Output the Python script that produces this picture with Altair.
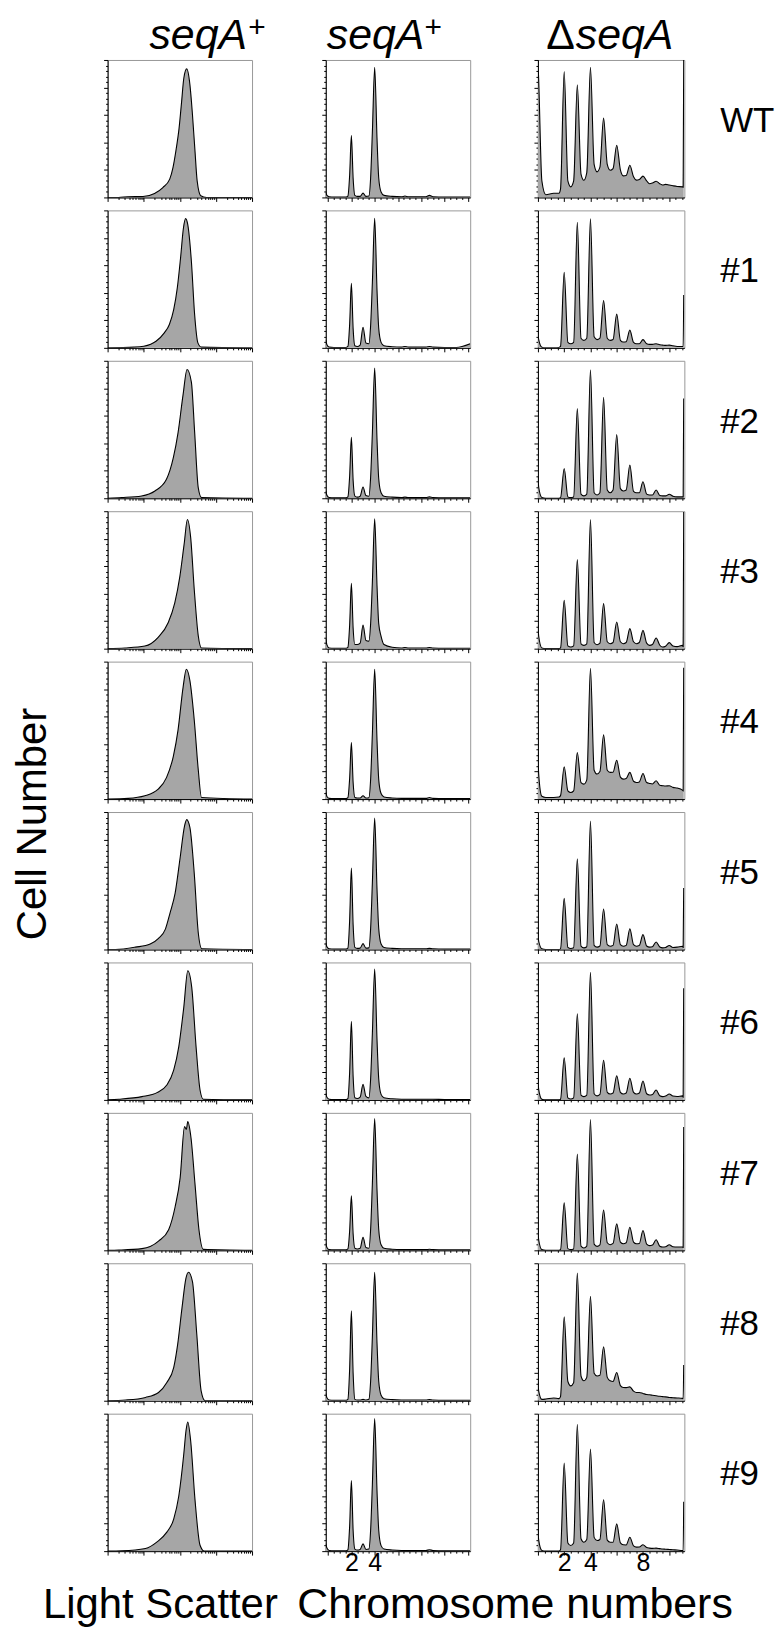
import altair as alt
import pandas as pd

FONT = "Liberation Sans"
FILL = "#a6a6a6"
ROW_NAMES = ["WT", "#1", "#2", "#3", "#4", "#5", "#6", "#7", "#8", "#9"]

# ---------- column 1: light scatter (log axis, positions in decades) ----------
LS_DEC = [
    [0, 0.3, 0.56, 0.98, 1.30, 1.53, 1.72, 1.81, 1.89, 1.98, 2.05, 2.11, 2.19, 2.28, 2.35, 2.42, 2.48, 2.58, 2.74, 4.0],
    [0, 0.73, 1.0, 1.34, 1.57, 1.71, 1.83, 1.93, 2.02, 2.1, 2.16, 2.22, 2.32, 2.41, 2.5, 2.6, 4.0],
    [0, 0.39, 0.94, 1.31, 1.63, 1.82, 1.95, 2.09, 2.2, 2.32, 2.41, 2.51, 2.6, 4.0],
    [0, 0.48, 1.03, 1.4, 1.68, 1.86, 2.0, 2.12, 2.21, 2.3, 2.4, 2.51, 2.6, 4.0],
    [0, 0.57, 1.03, 1.4, 1.63, 1.82, 1.95, 2.09, 2.18, 2.28, 2.4, 2.51, 2.6, 4.0],
    [0, 0.22, 0.77, 1.18, 1.41, 1.6, 1.73, 1.87, 2.01, 2.13, 2.19, 2.28, 2.4, 2.51, 2.61, 4.0],
    [0, 0.31, 0.95, 1.37, 1.64, 1.83, 1.97, 2.11, 2.22, 2.33, 2.45, 2.56, 2.65, 4.0],
    [0, 0.31, 0.95, 1.41, 1.69, 1.87, 2.01, 2.13, 2.18, 2.22, 2.31, 2.42, 2.53, 2.65, 4.0],
    [0, 0.5, 1.05, 1.41, 1.64, 1.83, 1.94, 2.06, 2.17, 2.24, 2.35, 2.47, 2.59, 2.7, 4.0],
    [0, 0.4, 1.05, 1.37, 1.64, 1.83, 1.97, 2.11, 2.17, 2.22, 2.3, 2.42, 2.56, 2.68, 4.0],
]
LS_Y = [
    [0, 0, 0.5, 0.7, 2.9, 7.2, 13.3, 21.7, 33.7, 50.6, 69.9, 86.7, 93.5, 81.9, 60.2, 33.7, 12, 1.2, 0, 0],
    [0, 0.5, 1.2, 4.8, 10.9, 17, 27.8, 43.6, 65.4, 87.2, 94, 89.6, 63, 24.2, 3.6, 0.5, 0],
    [0, 0.5, 1.7, 5.3, 13.8, 29.5, 47.6, 75.4, 93.7, 84.5, 48.3, 7.7, 0.5, 0],
    [0, 0.5, 1.9, 8.3, 19, 33.3, 52.4, 76.2, 94, 81, 42.9, 9.5, 0.5, 0],
    [0, 0.5, 2.4, 7.2, 15.6, 31.1, 50.2, 81.3, 94.5, 86, 57.4, 21.5, 1.2, 0],
    [0, 0, 1.7, 4, 8.1, 14.8, 26.7, 41, 67.1, 89.8, 94.5, 88.6, 55.2, 12.4, 0.5, 0],
    [0, 0.5, 2.4, 5.3, 10.8, 21.7, 38.6, 67.5, 94, 81.9, 38.6, 7.2, 0.5, 0],
    [0, 0.2, 1.2, 6.7, 15, 31.7, 53.1, 90, 88, 93.6, 81.7, 48.3, 15, 0.7, 0],
    [0, 0.5, 2.4, 6, 13.3, 24.1, 41, 67.5, 89.2, 93.5, 86.7, 48.2, 7.2, 0, 0],
    [0, 0.2, 1.9, 6.7, 13.8, 23.3, 39.9, 70.8, 87.4, 94, 80.3, 37.5, 4.3, 0, 0],
]

# ---------- column 2: seqA+ chromosome numbers ----------
CHR_X = [-0.2, -0.1, 0.1, 0.5, 1.0, 1.55, 1.7, 1.85, 2.0, 2.15,
         2.3, 2.5, 2.75, 3.0, 3.25, 3.5, 3.65, 3.8, 4.0, 4.2,
         4.35, 4.55, 4.8, 5.5, 6.3, 6.6, 6.9, 8.0, 8.4, 8.7,
         9.0, 10.0, 11.0, 12.2]
CHR_Y = [
    [3.6, 1.5, 0.5, 0.3, 0.3, 0.3, 1.0, 16, 45, 14, 1.5, 0.8, 0.8, 3.1, 0.8, 1.0, 14, 47, 94.7, 43, 14, 4, 1.5, 0.8, 0.5, 1.0, 0.5, 0.5, 0.5, 1.5, 0.5, 0.3, 0.3, 0.3],
    [5.8, 2.3, 0.5, 0.3, 0.3, 0.3, 1.0, 17, 46.9, 14, 1.5, 1.0, 2.0, 15, 3.5, 3.0, 16, 47, 94.2, 42, 14, 4, 1.5, 0.8, 0.5, 1.0, 0.5, 0.5, 0.5, 1.0, 0.5, 0.3, 0.3, 3.0],
    [5.3, 2.1, 0.5, 0.3, 0.3, 0.3, 1.0, 16, 44.4, 13, 1.5, 0.8, 1.5, 8.2, 2.0, 1.5, 15, 47, 94.7, 43, 14, 4, 1.5, 0.8, 0.5, 0.8, 0.5, 0.5, 0.5, 1.0, 0.5, 0.3, 0.3, 0.3],
    [7.1, 2.8, 0.5, 0.3, 0.3, 0.3, 1.0, 17, 47.5, 15, 3.0, 3.0, 4.0, 17.1, 6.0, 5.5, 18, 48, 94.5, 46, 18, 9, 3.0, 1.0, 0.5, 0.8, 0.5, 0.5, 0.5, 0.8, 0.5, 0.3, 0.3, 0.3],
    [4.8, 1.9, 0.5, 0.3, 0.3, 0.3, 1.0, 15, 41.2, 12, 1.2, 0.8, 0.8, 2.4, 0.8, 1.0, 14, 47, 94.4, 43, 14, 4, 1.5, 0.8, 0.5, 0.5, 0.5, 0.5, 0.5, 1.2, 0.5, 0.3, 0.3, 0.3],
    [4.8, 1.9, 0.5, 0.3, 0.3, 0.3, 1.0, 21, 59.3, 18, 1.5, 0.8, 1.0, 4.3, 1.0, 1.2, 15, 48, 95.7, 44, 15, 4, 1.5, 0.8, 0.5, 0.5, 0.5, 0.5, 0.5, 0.8, 0.5, 0.3, 0.3, 0.3],
    [4.8, 1.9, 0.5, 0.3, 0.3, 0.3, 1.0, 20, 57.1, 17, 1.5, 1.0, 2.0, 11.3, 2.5, 1.5, 15, 48, 95.2, 44, 15, 4, 1.5, 0.8, 0.5, 0.5, 0.5, 0.5, 0.5, 0.5, 0.5, 0.3, 0.3, 0.3],
    [5.3, 2.1, 0.5, 0.3, 0.3, 0.3, 1.0, 14, 39.6, 12, 1.5, 1.0, 1.5, 9.4, 2.0, 1.5, 15, 48, 95.9, 44, 15, 4, 1.5, 0.8, 0.5, 0.5, 0.5, 0.5, 0.5, 0.8, 0.5, 0.3, 0.3, 0.3],
    [5.3, 2.1, 0.5, 0.3, 0.3, 0.3, 1.0, 23, 65.5, 20, 1.0, 0.5, 0.5, 1.0, 0.5, 1.0, 14, 46, 93.5, 42, 14, 4, 1.5, 0.8, 0.5, 0.5, 0.5, 0.5, 0.5, 0.8, 0.5, 0.3, 0.3, 0.3],
    [5.5, 2.2, 0.5, 0.3, 0.3, 0.3, 1.0, 18, 51.4, 15, 1.5, 0.8, 1.2, 5.3, 1.2, 1.5, 15, 48, 96.4, 44, 15, 4, 1.5, 0.8, 0.5, 0.5, 0.5, 0.5, 0.5, 1.0, 0.5, 0.3, 0.3, 0.3],
]

# ---------- column 3: delta seqA chromosome numbers ----------
DSEQ_X = [0.0, 0.06, 0.3, 0.6, 1.2, 1.6,
          1.72, 2.0, 2.28, 2.5,
          2.72, 3.0, 3.28, 3.5,
          3.72, 4.0, 4.28, 4.5,
          4.72, 5.0, 5.28, 5.5,
          5.72, 6.0, 6.28, 6.5,
          6.72, 7.0, 7.28, 7.5,
          7.72, 8.0, 8.28, 8.5,
          8.72, 9.0, 9.28, 9.5,
          9.72, 10.0, 10.28, 10.6,
          11.0, 11.06, 11.1]
DSEQ_Y = [
    [100, 85, 12, 2, 3, 3, 6, 91.5, 12, 7.7, 12, 82, 17, 12.5, 18, 94.7, 24, 18.6, 22, 57.7, 24, 19.8,
     21, 38, 20, 15.7, 16, 23.4, 15, 12.6, 13, 15.5, 12, 10, 10.5, 11.8, 10, 9, 9.5, 9, 8.5, 8, 7.7, 7.5, 100],
    [11.6, 6, 0.5, 0, 0, 0.3, 1, 55, 4, 3, 4, 91.3, 7, 5.4, 7, 93.8, 8, 6, 7, 34.4, 7, 5.4,
     6, 24.5, 5.5, 4.2, 4.5, 12.9, 4, 3, 3, 6, 3, 2.5, 2.5, 3, 2.2, 2, 1.8, 2, 1.5, 1, 1, 1, 38.4],
    [15.5, 8, 0.5, 0, 0, 0, 0.3, 21.7, 1, 0.5, 1, 65.2, 3, 1.7, 3, 93.5, 4, 2.4, 4, 73.4, 6, 4,
     6, 46.4, 7, 5.3, 6, 24.2, 5, 4, 4, 12, 3, 2.4, 2.4, 6, 2, 1.7, 1.7, 2.9, 1.5, 1, 1, 1, 72.5],
    [17, 9, 0.5, 0, 0, 0, 0.5, 35.2, 2, 1.2, 2, 64.8, 3.5, 2.4, 3.5, 93.9, 4.5, 2.9, 4, 32.8, 5, 3.6,
     4.5, 19.4, 5, 3.6, 4.5, 14.6, 5, 3.6, 4.5, 13.3, 4, 2.4, 3, 7.8, 2.5, 1.2, 1.8, 4.4, 2, 1.5, 2.4, 1.5, 99.5],
    [33.9, 18, 2, 1.2, 1.2, 1.5, 2.5, 23.5, 6, 4.8, 6, 33.9, 12, 10.9, 14, 95.2, 21, 18.2, 20, 46.7, 21, 19.4,
     19.5, 28.3, 16, 14.5, 15, 19.4, 13, 12.1, 12.5, 18.6, 12, 11.4, 11, 13.3, 10, 9.7, 9.5, 9.7, 8.5, 8, 6.5, 6, 95.6],
    [12, 6, 0.5, 0, 0, 0, 0.5, 37.2, 1.5, 0.7, 1.2, 66, 2.5, 1.2, 2, 93.5, 3, 1.7, 2.5, 29.5, 3.5, 2.4,
     3, 18.5, 3.5, 2.4, 3, 15.1, 3.5, 2.4, 3, 10.8, 2.5, 1.7, 2, 5.5, 1.8, 1.2, 1.5, 2.9, 1.5, 1.7, 2.4, 1.5, 44.8],
    [15, 7.5, 0.5, 0, 0, 0, 0.5, 30.6, 1.5, 0.7, 1.5, 62.7, 3.5, 2.4, 3.5, 92.8, 4.5, 2.9, 4, 28.9, 5.5, 4.3,
     5, 17.6, 5.5, 4.3, 5, 15.7, 5.5, 4.3, 5, 13.7, 4.5, 3.6, 4, 7.2, 3, 2.4, 2.8, 4.3, 2.8, 2.5, 2.9, 2, 81.2],
    [14.9, 7.5, 0.5, 0, 0, 0, 0.4, 34.5, 1.2, 0.5, 1, 70, 3, 1.7, 3, 95.2, 4.5, 2.9, 4, 29.3, 5.5, 4.1,
     5, 19.2, 6, 4.8, 5.5, 16.8, 6, 4.8, 5, 14.4, 4.5, 3.4, 3.8, 7.7, 3, 2.4, 2.6, 4.1, 2.6, 2.4, 2.4, 2, 89.7],
    [13.3, 7, 1, 1.2, 2, 1.5, 3, 61, 14, 10.8, 13, 92.8, 18, 14.5, 17, 75.9, 20, 18, 18.5, 39.3, 17, 14.5,
     14, 20.5, 11, 9.6, 9.5, 10.1, 7, 6, 6, 5.3, 4.5, 4.3, 4, 3.6, 3.2, 3, 2.8, 2.4, 2.2, 2, 1.7, 1.5, 26],
    [16, 8, 0.5, 0, 0, 0, 1, 64, 6, 4.1, 6, 92.3, 9, 6.5, 8.5, 74.2, 10, 7.7, 8.5, 37.4, 8, 6.5,
     6.5, 19.8, 6, 4.6, 4.5, 10.1, 3.8, 2.9, 3, 4.6, 2.6, 2.2, 2, 2.2, 1.8, 1.5, 1.4, 1.2, 1, 0.8, 0.5, 0.5, 36],
]

# ---------- tick positions ----------
Y_TICKS = list(range(0, 101, 4))
LS_TICKS = [k * 10 ** n for n in range(4) for k in range(1, 10)] + [10000]
CHR_TICKS = [i / 2 for i in range(0, 25)]
DSEQ_TICKS = [i / 2 for i in range(0, 23)]
CHR_LABELS = [2, 4]
DSEQ_LABELS = [2, 4, 8]

PANEL_H = 138
COL_W = [99, 145, 74, 145, 68, 147, 14, 75]   # left label, p1, gap, p2, gap, p3, gap, row label
TITLE_H = 35
BOTTOM_H = 50
VSPACE = 13

BORDER = alt.ViewBackground(stroke="#999999", strokeWidth=1)


def tick_size(test):
    return {"condition": {"test": test, "value": 4}, "value": 2}


def y_axis():
    return alt.Axis(values=Y_TICKS, labels=False, title=None, grid=False,
                    domainColor="black", domainWidth=1, tickColor="black", tickWidth=1,
                    tickSize=tick_size("datum.value % 20 === 0"))


def x_axis(values, major_test, label_vals=None):
    kw = dict(values=values, title=None, grid=False, domainColor="black", domainWidth=1,
              tickColor="black", tickWidth=1, tickSize=tick_size(major_test))
    if label_vals:
        cond = " || ".join(f"datum.value === {v}" for v in label_vals)
        kw.update(labels=True, labelExpr=f"({cond}) ? toString(datum.value) : ''",
                  labelFont=FONT, labelFontSize=25, labelColor="black",
                  labelPadding=-5, labelOverlap=False, labelFlush=False)
    else:
        kw.update(labels=False)
    return alt.Axis(**kw)


def panel(df, xscale, xaxis, width):
    enc = dict(
        x=alt.X("x:Q", scale=xscale, axis=xaxis),
        y=alt.Y("y:Q", scale=alt.Scale(domain=[0, 100], nice=False, zero=True), axis=y_axis()),
    )
    area = alt.Chart(df).mark_area(color=FILL, interpolate="monotone", clip=True).encode(**enc)
    line = alt.Chart(df).mark_line(color="black", strokeWidth=1.1, interpolate="monotone", clip=True).encode(**enc)
    return alt.layer(area, line).properties(width=width, height=PANEL_H, view=BORDER)


def spacer(w, h):
    return alt.Chart(pd.DataFrame({"v": [0]})).mark_rule(opacity=0).encode(
        x=alt.value(0), y=alt.value(0), y2=alt.value(1)).properties(width=w, height=h)


def txt(s, x, y, size, align="center", baseline="middle", style="normal", angle=0):
    return alt.Chart(pd.DataFrame({"t": [s]})).mark_text(
        font=FONT, fontSize=size, align=align, baseline=baseline, fontStyle=style,
        angle=angle, color="black").encode(text="t:N", x=alt.value(x), y=alt.value(y))


cells = []
# title row
cells += [
    spacer(COL_W[0], TITLE_H),
    alt.layer(txt("seqA", 140, 37, 43, align="right", baseline="alphabetic", style="italic"),
              txt("+", 150, 16, 30)).properties(width=COL_W[1], height=TITLE_H),
    spacer(COL_W[2], TITLE_H),
    alt.layer(txt("seqA", 99, 37, 43, align="right", baseline="alphabetic", style="italic"),
              txt("+", 108, 16, 30)).properties(width=COL_W[3], height=TITLE_H),
    spacer(COL_W[4], TITLE_H),
    alt.layer(txt("\u0394", 37, 37, 43, align="right", baseline="alphabetic"),
              txt("seqA", 38, 37, 43, align="left", baseline="alphabetic", style="italic")
              ).properties(width=COL_W[5], height=TITLE_H),
    spacer(COL_W[6], TITLE_H),
    spacer(COL_W[7], TITLE_H),
]

for i, name in enumerate(ROW_NAMES):
    last = i == len(ROW_NAMES) - 1
    df1 = pd.DataFrame({"x": [10 ** d for d in LS_DEC[i]], "y": LS_Y[i]})
    df2 = pd.DataFrame({"x": CHR_X, "y": CHR_Y[i]})
    df3 = pd.DataFrame({"x": DSEQ_X, "y": DSEQ_Y[i]})
    p1 = panel(df1, alt.Scale(type="log", domain=[1, 10000], nice=False),
               x_axis(LS_TICKS, "indexof([1,10,100,1000,10000], datum.value) >= 0"), COL_W[1])
    p2 = panel(df2, alt.Scale(domain=[-0.2, 12.2], nice=False, zero=False),
               x_axis(CHR_TICKS, "datum.value % 2 === 0", CHR_LABELS if last else None), COL_W[3])
    p3 = panel(df3, alt.Scale(domain=[0, 11.15], nice=False, zero=False),
               x_axis(DSEQ_TICKS, "datum.value % 2 === 0", DSEQ_LABELS if last else None), COL_W[5])
    if i == 5:
        left = txt("Cell Number", 24, 12, 42, angle=270).properties(width=COL_W[0], height=PANEL_H)
    else:
        left = spacer(COL_W[0], PANEL_H)
    lab = txt(name, 22, 61, 35, align="left").properties(width=COL_W[7], height=PANEL_H)
    cells += [left, p1, spacer(COL_W[2], PANEL_H), p2, spacer(COL_W[4], PANEL_H), p3,
              spacer(COL_W[6], PANEL_H), lab]

# bottom row
cells += [
    spacer(COL_W[0], BOTTOM_H),
    txt("Light Scatter", 53, 41, 42).properties(width=COL_W[1], height=BOTTOM_H),
    spacer(COL_W[2], BOTTOM_H),
    txt("Chromosome numbers", 190, 41, 43).properties(width=COL_W[3], height=BOTTOM_H),
    spacer(COL_W[4], BOTTOM_H),
    spacer(COL_W[5], BOTTOM_H),
    spacer(COL_W[6], BOTTOM_H),
    spacer(COL_W[7], BOTTOM_H),
]

chart = alt.concat(*cells, columns=8, spacing={"row": VSPACE, "column": 0},
                   align="each", bounds="flush").properties(
    padding=0, background="white"
).configure_view(stroke="transparent")

chart.save("out.html", embed_options={"renderer": "svg", "actions": False})
